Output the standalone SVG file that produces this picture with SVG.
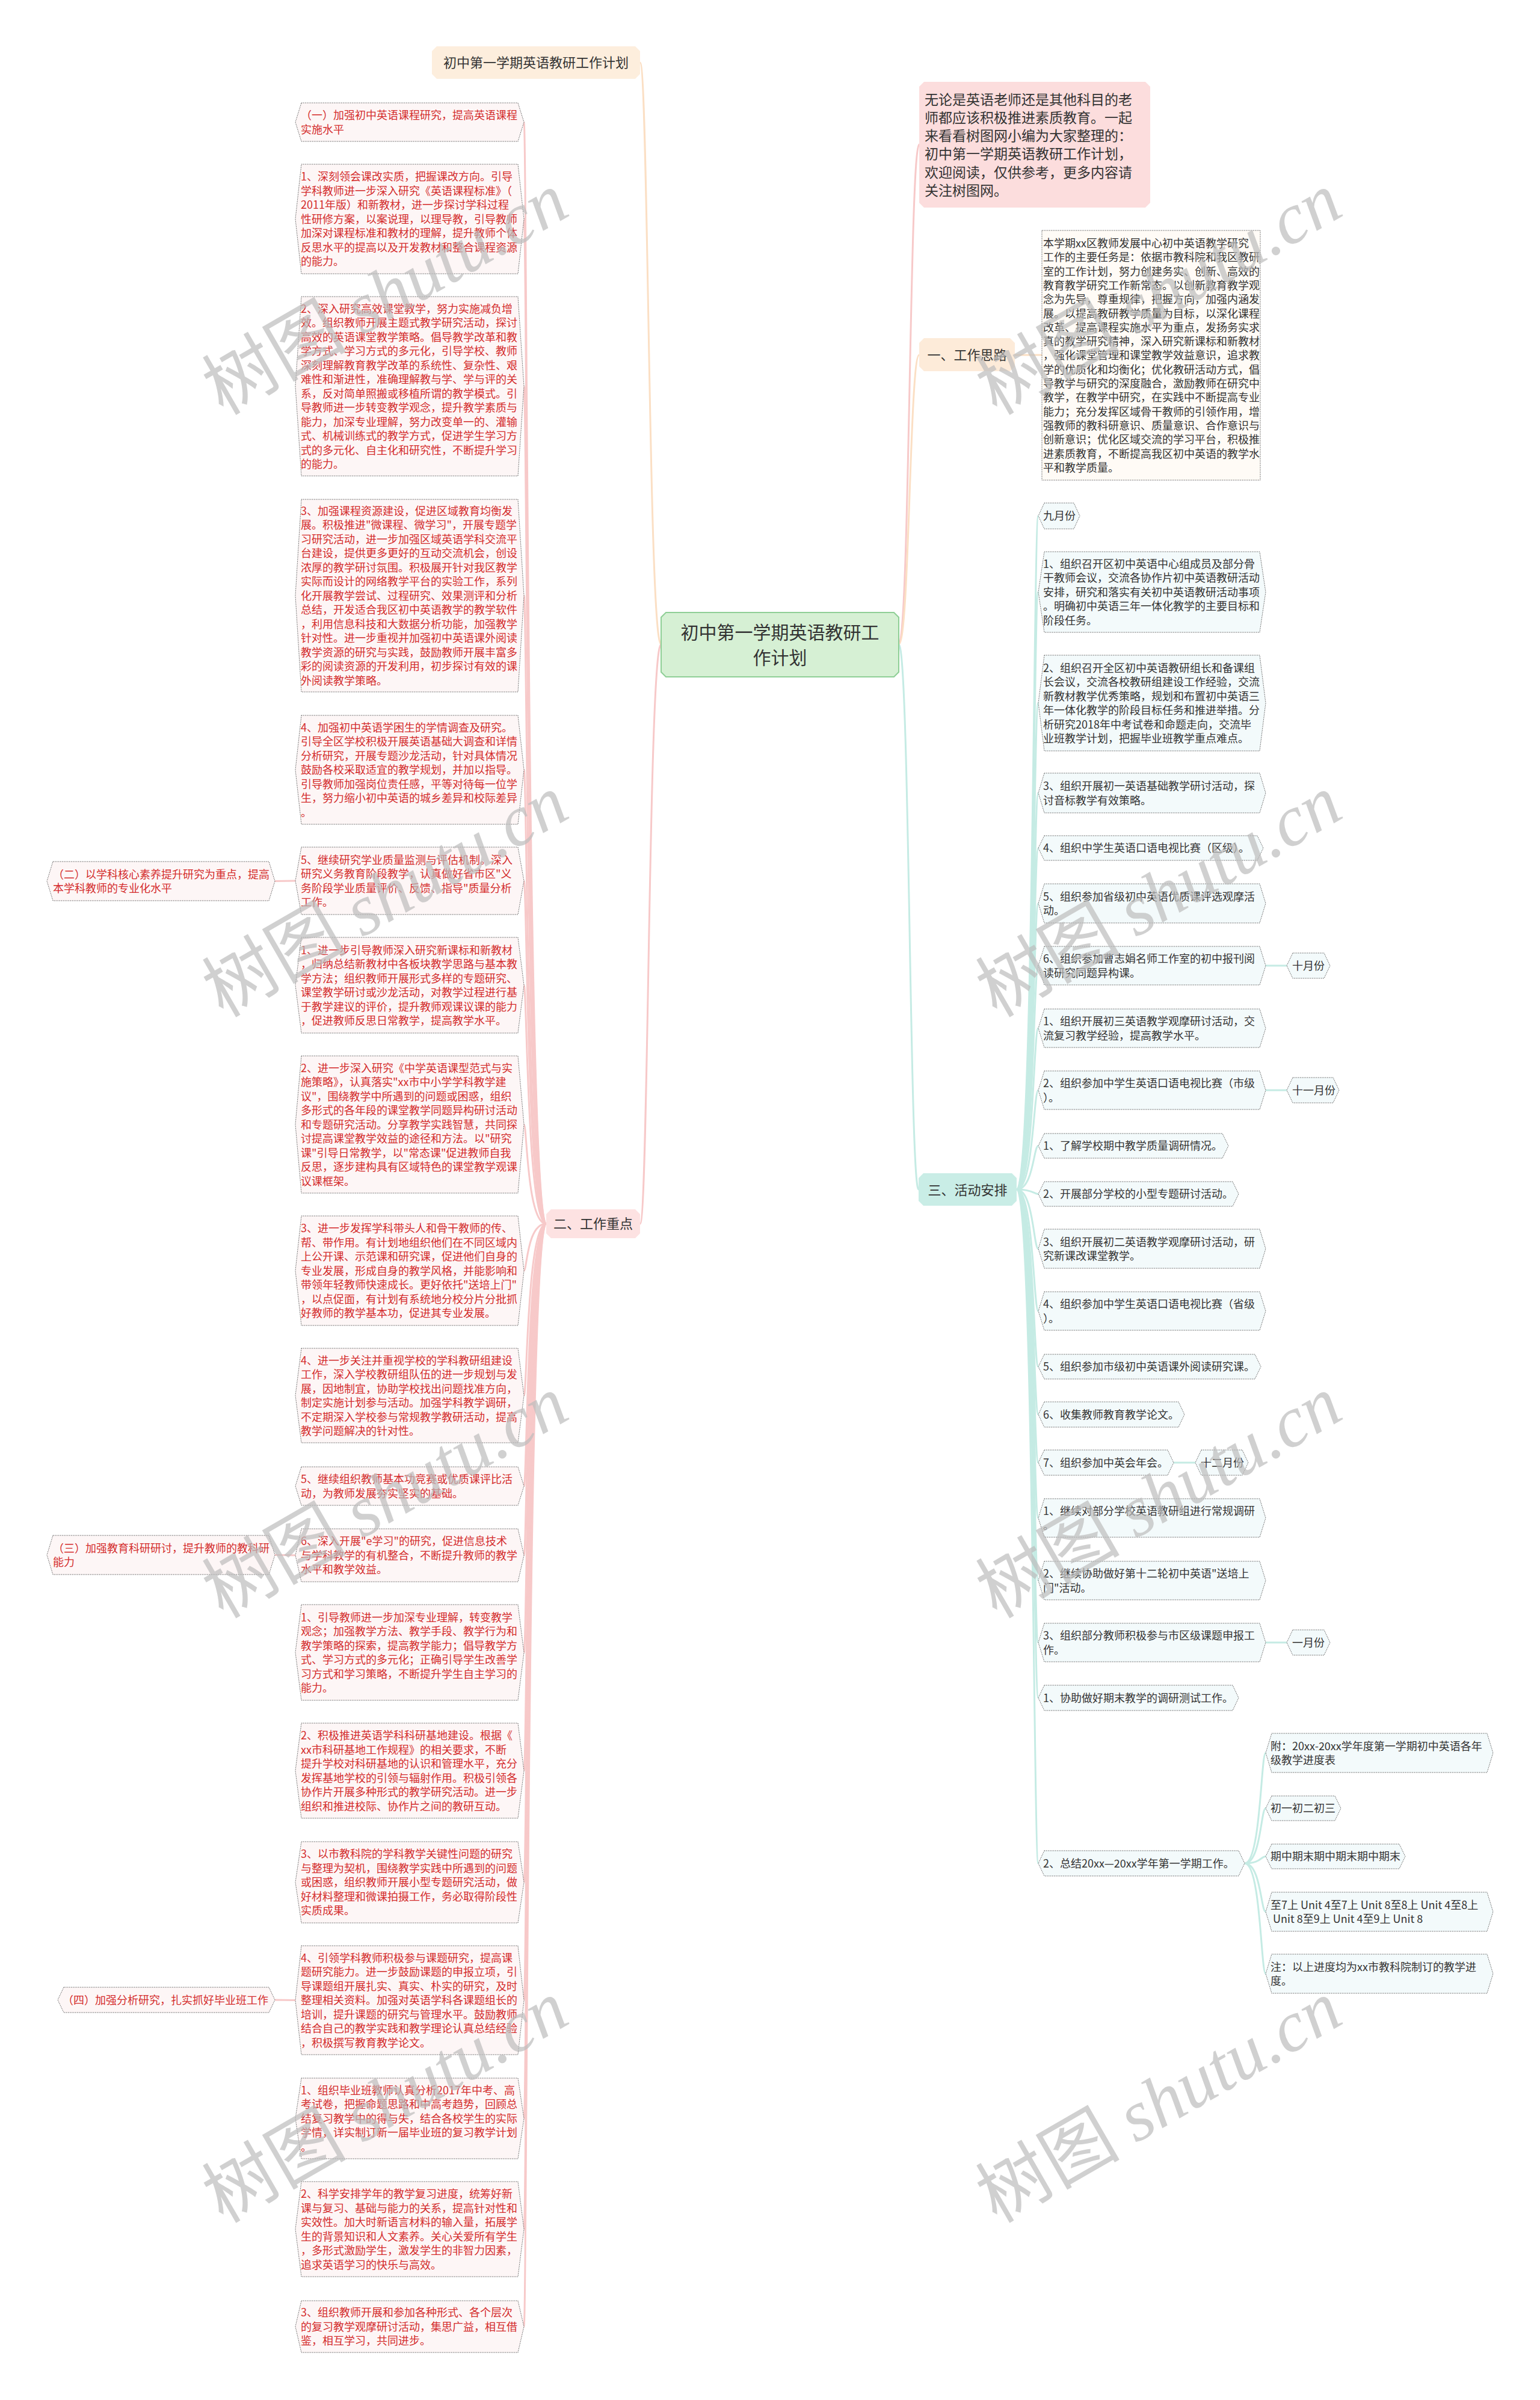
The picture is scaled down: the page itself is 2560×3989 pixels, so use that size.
<svg xmlns="http://www.w3.org/2000/svg" width="2560" height="3989" viewBox="0 0 2560 3989">
<style>
.lt{font-family:"Noto Sans CJK SC","Liberation Sans",sans-serif;font-size:18px;fill:#d42c2c}
.rt{font-family:"Noto Sans CJK SC","Liberation Sans",sans-serif;font-size:18px;fill:#333}
.ht{font-family:"Noto Sans CJK SC","Liberation Sans",sans-serif;font-size:22px;fill:#333;text-anchor:middle}
.ln{fill:#fdf6f6;stroke:#555;stroke-width:1;stroke-dasharray:1.5 1.5}
.rn{fill:#f3fafb;stroke:#555;stroke-width:1;stroke-dasharray:1.5 1.5}
.cl{fill:none;stroke:#f7c9c9;stroke-width:3}
.co{fill:none;stroke:#fbdfc4;stroke-width:3}
.ct{fill:none;stroke:#c5ebe4;stroke-width:3}
.wm{font-size:120px;fill:#bcbcbc;fill-opacity:0.7;text-anchor:middle}
</style>
<rect width="2560" height="3989" fill="#fff"/>

<g id="connectors">
  <path class="co" d="M1099,1071 C1078,1071 1078,104 1064,104"/>
  <path class="cl" d="M1099,1071 C1078,1071 1078,2034 1064,2034"/>
  <path class="cl" d="M1494,1071 C1512,1071 1512,240 1528,240"/>
  <path class="co" d="M1494,1071 C1512,1071 1512,590 1528,590"/>
  <path class="ct" d="M1494,1071 C1512,1071 1512,1977 1527,1977"/>
  <path class="co" d="M1687,590 L1732,590"/>
  <g class="cl">
    <path d="M908,2034 C876,2034 876,203 871,203"/>
    <path d="M908,2034 C876,2034 876,364 871,364"/>
    <path d="M908,2034 C876,2034 876,642 871,642"/>
    <path d="M908,2034 C876,2034 876,990 871,990"/>
    <path d="M908,2034 C876,2034 876,1279.5 871,1279.5"/>
    <path d="M908,2034 C876,2034 876,1464 871,1464"/>
    <path d="M908,2034 C876,2034 876,1637.5 871,1637.5"/>
    <path d="M908,2034 C876,2034 876,1869 871,1869"/>
    <path d="M908,2034 C876,2034 876,2112 871,2112"/>
    <path d="M908,2034 C876,2034 876,2319.5 871,2319.5"/>
    <path d="M908,2034 C876,2034 876,2470 871,2470"/>
    <path d="M908,2034 C876,2034 876,2585 871,2585"/>
    <path d="M908,2034 C876,2034 876,2746.5 871,2746.5"/>
    <path d="M908,2034 C876,2034 876,2943 871,2943"/>
    <path d="M908,2034 C876,2034 876,3128.5 871,3128.5"/>
    <path d="M908,2034 C876,2034 876,3324.5 871,3324.5"/>
    <path d="M908,2034 C876,2034 876,3521 871,3521"/>
    <path d="M908,2034 C876,2034 876,3705 871,3705"/>
    <path d="M908,2034 C876,2034 876,3867 871,3867"/>
    <path d="M491,1464 L457,1464.5"/>
    <path d="M491,2585 L457,2584.5"/>
    <path d="M491,3324.5 L457,3324"/>
  </g>
  <g class="ct">
    <path d="M1690,1977 C1718,1977 1718,857.5 1726,857.5"/>
    <path d="M1690,1977 C1718,1977 1718,984 1726,984"/>
    <path d="M1690,1977 C1718,1977 1718,1168.5 1726,1168.5"/>
    <path d="M1690,1977 C1718,1977 1718,1318 1726,1318"/>
    <path d="M1690,1977 C1718,1977 1718,1409.5 1726,1409.5"/>
    <path d="M1690,1977 C1718,1977 1718,1501.5 1726,1501.5"/>
    <path d="M1690,1977 C1718,1977 1718,1605 1726,1605"/>
    <path d="M1690,1977 C1718,1977 1718,1709 1726,1709"/>
    <path d="M1690,1977 C1718,1977 1718,1812 1726,1812"/>
    <path d="M1690,1977 C1718,1977 1718,1904.5 1726,1904.5"/>
    <path d="M1690,1977 C1718,1977 1718,1984.5 1726,1984.5"/>
    <path d="M1690,1977 C1718,1977 1718,2075.5 1726,2075.5"/>
    <path d="M1690,1977 C1718,1977 1718,2179 1726,2179"/>
    <path d="M1690,1977 C1718,1977 1718,2271.5 1726,2271.5"/>
    <path d="M1690,1977 C1718,1977 1718,2351 1726,2351"/>
    <path d="M1690,1977 C1718,1977 1718,2431 1726,2431"/>
    <path d="M1690,1977 C1718,1977 1718,2523 1726,2523"/>
    <path d="M1690,1977 C1718,1977 1718,2627 1726,2627"/>
    <path d="M1690,1977 C1718,1977 1718,2730 1726,2730"/>
    <path d="M1690,1977 C1718,1977 1718,2822 1726,2822"/>
    <path d="M1690,1977 C1718,1977 1718,3097 1726,3097"/>
    <path d="M2104,1605 L2139,1605"/>
    <path d="M2104,1812 L2139,1812"/>
    <path d="M1951,2431 L1987,2431"/>
    <path d="M2104,2730 L2139,2730"/>
    <path d="M2069,3097 C2096,3097 2096,2913.5 2104,2913.5"/>
    <path d="M2069,3097 C2096,3097 2096,3005.5 2104,3005.5"/>
    <path d="M2069,3097 C2096,3097 2096,3085.5 2104,3085.5"/>
    <path d="M2069,3097 C2096,3097 2096,3177.5 2104,3177.5"/>
    <path d="M2069,3097 C2096,3097 2096,3280.5 2104,3280.5"/>
  </g>
</g>

<g id="center">
  <path d="M1107,1018H1486L1494,1026V1117L1486,1125H1107L1099,1117V1026Z" fill="#d6f0d4" stroke="#8fcf96" stroke-width="2"/>
  <text x="1296.5" y="1062" font-family="Noto Sans CJK SC, sans-serif" font-size="30" fill="#333" text-anchor="middle"><tspan x="1296.5">初中第一学期英语教研工</tspan><tspan x="1296.5" dy="42">作计划</tspan></text>
</g>

<g id="title-node">
  <path d="M726,77H1056L1064,85V123L1056,131H726L718,123V85Z" fill="#fdeedd"/>
  <text class="ht" x="891" y="112">初中第一学期英语教研工作计划</text>
</g>
<g id="n-er">
  <path d="M916,2010H1056L1064,2018V2050L1056,2058H916L908,2050V2018Z" fill="#fde2e2"/>
  <text class="ht" x="986" y="2042">二、工作重点</text>
</g>
<g id="n-intro">
  <path d="M1536,136H1904L1912,144V337L1904,345H1536L1528,337V144Z" fill="#fcdddd"/>
  <text x="1537" y="173.5" font-family="Noto Sans CJK SC, sans-serif" font-size="23" fill="#333"><tspan x="1537">无论是英语老师还是其他科目的老</tspan><tspan x="1537" dy="30.3">师都应该积极推进素质教育。一起</tspan><tspan x="1537" dy="30.3">来看看树图网小编为大家整理的：</tspan><tspan x="1537" dy="30.3">初中第一学期英语教研工作计划，</tspan><tspan x="1537" dy="30.3">欢迎阅读，仅供参考，更多内容请</tspan><tspan x="1537" dy="30.3">关注树图网。</tspan></text>
</g>
<g id="n-yi">
  <path d="M1536,562H1679L1687,570V609L1679,617H1536L1528,609V570Z" fill="#fdebd9"/>
  <text class="ht" x="1607.5" y="598">一、工作思路</text>
</g>
<g id="n-yi-1">
  <rect x="1732" y="383" width="363" height="415" fill="#fffbf6" stroke="#555" stroke-width="1" stroke-dasharray="1.5 1.5"/>
  <text class="rt" x="1734" y="411"><tspan x="1734">本学期xx区教师发展中心初中英语教学研究</tspan><tspan x="1734" dy="23.3">工作的主要任务是：依据市教科院和我区教研</tspan><tspan x="1734" dy="23.3">室的工作计划，努力创建务实、创新、高效的</tspan><tspan x="1734" dy="23.3">教育教学研究工作新常态。以创新教育教学观</tspan><tspan x="1734" dy="23.3">念为先导，尊重规律，把握方向，加强内涵发</tspan><tspan x="1734" dy="23.3">展。以提高教研教学质量为目标，以深化课程</tspan><tspan x="1734" dy="23.3">改革、提高课程实施水平为重点，发扬务实求</tspan><tspan x="1734" dy="23.3">真的教学研究精神，深入研究新课标和新教材</tspan><tspan x="1734" dy="23.3">，强化课堂管理和课堂教学效益意识，追求教</tspan><tspan x="1734" dy="23.3">学的优质化和均衡化；优化教研活动方式，倡</tspan><tspan x="1734" dy="23.3">导教学与研究的深度融合，激励教师在研究中</tspan><tspan x="1734" dy="23.3">教学，在教学中研究，在实践中不断提高专业</tspan><tspan x="1734" dy="23.3">能力；充分发挥区域骨干教师的引领作用，增</tspan><tspan x="1734" dy="23.3">强教师的教科研意识、质量意识、合作意识与</tspan><tspan x="1734" dy="23.3">创新意识；优化区域交流的学习平台，积极推</tspan><tspan x="1734" dy="23.3">进素质教育，不断提高我区初中英语的教学水</tspan><tspan x="1734" dy="23.3">平和教学质量。</tspan></text>
</g>
<g id="n-san">
  <path d="M1535,1950H1682L1690,1958V1996L1682,2004H1535L1527,1996V1958Z" fill="#c9ede6"/>
  <text class="ht" x="1608.5" y="1985.5">三、活动安排</text>
</g>

<g id="left-nodes">
<g id="a0"><path class="ln" d="M501,171H861L871,203L861,235H501L491,203Z"/>
<text class="lt" x="500" y="198"><tspan x="500">（一）加强初中英语课程研究，提高英语课程</tspan><tspan x="500" dy="23.5">实施水平</tspan></text></g>
<g id="a1"><path class="ln" d="M501,273H861L871,364L861,455H501L491,364Z"/>
<text class="lt" x="500" y="300.3"><tspan x="500">1、深刻领会课改实质，把握课改方向。引导</tspan><tspan x="500" dy="23.5">学科教师进一步深入研究《英语课程标准》（</tspan><tspan x="500" dy="23.5">2011年版）和新教材，进一步探讨学科过程</tspan><tspan x="500" dy="23.5">性研修方案，以案说理，以理导教，引导教师</tspan><tspan x="500" dy="23.5">加深对课程标准和教材的理解，提升教师个体</tspan><tspan x="500" dy="23.5">反思水平的提高以及开发教材和整合课程资源</tspan><tspan x="500" dy="23.5">的能力。</tspan></text></g>
<g id="a2"><path class="ln" d="M501,493H861L871,642L861,791H501L491,642Z"/>
<text class="lt" x="500" y="519.5"><tspan x="500">2、深入研究高效课堂教学，努力实施减负增</tspan><tspan x="500" dy="23.5">效。组织教师开展主题式教学研究活动，探讨</tspan><tspan x="500" dy="23.5">高效的英语课堂教学策略。倡导教学改革和教</tspan><tspan x="500" dy="23.5">学方式、学习方式的多元化，引导学校、教师</tspan><tspan x="500" dy="23.5">深刻理解教育教学改革的系统性、复杂性、艰</tspan><tspan x="500" dy="23.5">难性和渐进性，准确理解教与学、学与评的关</tspan><tspan x="500" dy="23.5">系，反对简单照搬或移植所谓的教学模式。引</tspan><tspan x="500" dy="23.5">导教师进一步转变教学观念，提升教学素质与</tspan><tspan x="500" dy="23.5">能力，加深专业理解，努力改变单一的、灌输</tspan><tspan x="500" dy="23.5">式、机械训练式的教学方式，促进学生学习方</tspan><tspan x="500" dy="23.5">式的多元化、自主化和研究性，不断提升学习</tspan><tspan x="500" dy="23.5">的能力。</tspan></text></g>
<g id="a3"><path class="ln" d="M501,830H861L871,990L861,1150H501L491,990Z"/>
<text class="lt" x="500" y="855.8"><tspan x="500">3、加强课程资源建设，促进区域教育均衡发</tspan><tspan x="500" dy="23.5">展。积极推进"微课程、微学习"，开展专题学</tspan><tspan x="500" dy="23.5">习研究活动，进一步加强区域英语学科交流平</tspan><tspan x="500" dy="23.5">台建设，提供更多更好的互动交流机会，创设</tspan><tspan x="500" dy="23.5">浓厚的教学研讨氛围。积极展开针对我区教学</tspan><tspan x="500" dy="23.5">实际而设计的网络教学平台的实验工作，系列</tspan><tspan x="500" dy="23.5">化开展教学尝试、过程研究、效果测评和分析</tspan><tspan x="500" dy="23.5">总结，开发适合我区初中英语教学的教学软件</tspan><tspan x="500" dy="23.5">，利用信息科技和大数据分析功能，加强教学</tspan><tspan x="500" dy="23.5">针对性。进一步重视并加强初中英语课外阅读</tspan><tspan x="500" dy="23.5">教学资源的研究与实践，鼓励教师开展丰富多</tspan><tspan x="500" dy="23.5">彩的阅读资源的开发利用，初步探讨有效的课</tspan><tspan x="500" dy="23.5">外阅读教学策略。</tspan></text></g>
<g id="a4"><path class="ln" d="M501,1189H861L871,1279.5L861,1370H501L491,1279.5Z"/>
<text class="lt" x="500" y="1215.8"><tspan x="500">4、加强初中英语学困生的学情调查及研究。</tspan><tspan x="500" dy="23.5">引导全区学校积极开展英语基础大调查和详情</tspan><tspan x="500" dy="23.5">分析研究，开展专题沙龙活动，针对具体情况</tspan><tspan x="500" dy="23.5">鼓励各校采取适宜的教学规划，并加以指导。</tspan><tspan x="500" dy="23.5">引导教师加强岗位责任感，平等对待每一位学</tspan><tspan x="500" dy="23.5">生，努力缩小初中英语的城乡差异和校际差异</tspan><tspan x="500" dy="23.5">。</tspan></text></g>
<g id="a5"><path class="ln" d="M501,1408H861L871,1464L861,1520H501L491,1464Z"/>
<text class="lt" x="500" y="1435.5"><tspan x="500">5、继续研究学业质量监测与评估机制。深入</tspan><tspan x="500" dy="23.5">研究义务教育阶段教学，认真做好省市区"义</tspan><tspan x="500" dy="23.5">务阶段学业质量评价、反馈、指导"质量分析</tspan><tspan x="500" dy="23.5">工作。</tspan></text></g>
<g id="n-er-2"><path class="ln" d="M88,1432H447L457,1464.5L447,1497H88L78,1464.5Z"/>
<text class="lt" x="88" y="1459.5"><tspan x="88">（二）以学科核心素养提升研究为重点，提高</tspan><tspan x="88" dy="23.5">本学科教师的专业化水平</tspan></text></g>
<g id="b1"><path class="ln" d="M501,1558H861L871,1637.5L861,1717H501L491,1637.5Z"/>
<text class="lt" x="500" y="1585.5"><tspan x="500">1、进一步引导教师深入研究新课标和新教材</tspan><tspan x="500" dy="23.5">，归纳总结新教材中各板块教学思路与基本教</tspan><tspan x="500" dy="23.5">学方法；组织教师开展形式多样的专题研究、</tspan><tspan x="500" dy="23.5">课堂教学研讨或沙龙活动，对教学过程进行基</tspan><tspan x="500" dy="23.5">于教学建议的评价，提升教师观课议课的能力</tspan><tspan x="500" dy="23.5">，促进教师反思日常教学，提高教学水平。</tspan></text></g>
<g id="b2"><path class="ln" d="M501,1755H861L871,1869L861,1983H501L491,1869Z"/>
<text class="lt" x="500" y="1781.8"><tspan x="500">2、进一步深入研究《中学英语课型范式与实</tspan><tspan x="500" dy="23.5">施策略》，认真落实"xx市中小学学科教学建</tspan><tspan x="500" dy="23.5">议"，围绕教学中所遇到的问题或困惑，组织</tspan><tspan x="500" dy="23.5">多形式的各年段的课堂教学同题异构研讨活动</tspan><tspan x="500" dy="23.5">和专题研究活动。分享教学实践智慧，共同探</tspan><tspan x="500" dy="23.5">讨提高课堂教学效益的途径和方法。以"研究</tspan><tspan x="500" dy="23.5">课"引导日常教学，以"常态课"促进教师自我</tspan><tspan x="500" dy="23.5">反思，逐步建构具有区域特色的课堂教学观课</tspan><tspan x="500" dy="23.5">议课框架。</tspan></text></g>
<g id="b3"><path class="ln" d="M501,2021H861L871,2112L861,2203H501L491,2112Z"/>
<text class="lt" x="500" y="2048.3"><tspan x="500">3、进一步发挥学科带头人和骨干教师的传、</tspan><tspan x="500" dy="23.5">帮、带作用。有计划地组织他们在不同区域内</tspan><tspan x="500" dy="23.5">上公开课、示范课和研究课，促进他们自身的</tspan><tspan x="500" dy="23.5">专业发展，形成自身的教学风格，并能影响和</tspan><tspan x="500" dy="23.5">带领年轻教师快速成长。更好依托"送培上门"</tspan><tspan x="500" dy="23.5">，以点促面，有计划有系统地分校分片分批抓</tspan><tspan x="500" dy="23.5">好教师的教学基本功，促进其专业发展。</tspan></text></g>
<g id="b4"><path class="ln" d="M501,2241H861L871,2319.5L861,2398H501L491,2319.5Z"/>
<text class="lt" x="500" y="2267.5"><tspan x="500">4、进一步关注并重视学校的学科教研组建设</tspan><tspan x="500" dy="23.5">工作，深入学校教研组队伍的进一步规划与发</tspan><tspan x="500" dy="23.5">展，因地制宜，协助学校找出问题找准方向，</tspan><tspan x="500" dy="23.5">制定实施计划参与活动。加强学科教学调研，</tspan><tspan x="500" dy="23.5">不定期深入学校参与常规教学教研活动，提高</tspan><tspan x="500" dy="23.5">教学问题解决的针对性。</tspan></text></g>
<g id="b5"><path class="ln" d="M501,2438H861L871,2470L861,2502H501L491,2470Z"/>
<text class="lt" x="500" y="2465"><tspan x="500">5、继续组织教师基本功竞赛或优质课评比活</tspan><tspan x="500" dy="23.5">动，为教师发展夯实坚实的基础。</tspan></text></g>
<g id="b6"><path class="ln" d="M501,2541H861L871,2585L861,2629H501L491,2585Z"/>
<text class="lt" x="500" y="2568.3"><tspan x="500">6、深入开展"e学习"的研究，促进信息技术</tspan><tspan x="500" dy="23.5">与学科教学的有机整合，不断提升教师的教学</tspan><tspan x="500" dy="23.5">水平和教学效益。</tspan></text></g>
<g id="n-san-2"><path class="ln" d="M88,2552H447L457,2584.5L447,2617H88L78,2584.5Z"/>
<text class="lt" x="88" y="2579.5"><tspan x="88">（三）加强教育科研研讨，提升教师的教科研</tspan><tspan x="88" dy="23.5">能力</tspan></text></g>
<g id="c1"><path class="ln" d="M501,2667H861L871,2746.5L861,2826H501L491,2746.5Z"/>
<text class="lt" x="500" y="2694.5"><tspan x="500">1、引导教师进一步加深专业理解，转变教学</tspan><tspan x="500" dy="23.5">观念；加强教学方法、教学手段、教学行为和</tspan><tspan x="500" dy="23.5">教学策略的探索，提高教学能力；倡导教学方</tspan><tspan x="500" dy="23.5">式、学习方式的多元化；正确引导学生改善学</tspan><tspan x="500" dy="23.5">习方式和学习策略，不断提升学生自主学习的</tspan><tspan x="500" dy="23.5">能力。</tspan></text></g>
<g id="c2"><path class="ln" d="M501,2864H861L871,2943L861,3022H501L491,2943Z"/>
<text class="lt" x="500" y="2891"><tspan x="500">2、积极推进英语学科科研基地建设。根据《</tspan><tspan x="500" dy="23.5">xx市科研基地工作规程》的相关要求，不断</tspan><tspan x="500" dy="23.5">提升学校对科研基地的认识和管理水平，充分</tspan><tspan x="500" dy="23.5">发挥基地学校的引领与辐射作用。积极引领各</tspan><tspan x="500" dy="23.5">协作片开展多种形式的教学研究活动。进一步</tspan><tspan x="500" dy="23.5">组织和推进校际、协作片之间的教研互动。</tspan></text></g>
<g id="c3"><path class="ln" d="M501,3061H861L871,3128.5L861,3196H501L491,3128.5Z"/>
<text class="lt" x="500" y="3088.3"><tspan x="500">3、以市教科院的学科教学关键性问题的研究</tspan><tspan x="500" dy="23.5">与整理为契机，围绕教学实践中所遇到的问题</tspan><tspan x="500" dy="23.5">或困惑，组织教师开展小型专题研究活动，做</tspan><tspan x="500" dy="23.5">好材料整理和微课拍摄工作，务必取得阶段性</tspan><tspan x="500" dy="23.5">实质成果。</tspan></text></g>
<g id="c4"><path class="ln" d="M501,3234H861L871,3324.5L861,3415H501L491,3324.5Z"/>
<text class="lt" x="500" y="3260.8"><tspan x="500">4、引领学科教师积极参与课题研究，提高课</tspan><tspan x="500" dy="23.5">题研究能力。进一步鼓励课题的申报立项，引</tspan><tspan x="500" dy="23.5">导课题组开展扎实、真实、朴实的研究，及时</tspan><tspan x="500" dy="23.5">整理相关资料。加强对英语学科各课题组长的</tspan><tspan x="500" dy="23.5">培训，提升课题的研究与管理水平。鼓励教师</tspan><tspan x="500" dy="23.5">结合自己的教学实践和教学理论认真总结经验</tspan><tspan x="500" dy="23.5">，积极撰写教育教学论文。</tspan></text></g>
<g id="n-si-2"><path class="ln" d="M106,3303H447L457,3324L447,3345H106L96,3324Z"/>
<text class="lt" x="104" y="3330.8">（四）加强分析研究，扎实抓好毕业班工作</text></g>
<g id="d1"><path class="ln" d="M501,3454H861L871,3521L861,3588H501L491,3521Z"/>
<text class="lt" x="500" y="3480.8"><tspan x="500">1、组织毕业班教师认真分析2017年中考、高</tspan><tspan x="500" dy="23.5">考试卷，把握命题思路和中高考趋势，回顾总</tspan><tspan x="500" dy="23.5">结复习教学中的得与失，结合各校学生的实际</tspan><tspan x="500" dy="23.5">学情，详实制订新一届毕业班的复习教学计划</tspan><tspan x="500" dy="23.5">。</tspan></text></g>
<g id="d2"><path class="ln" d="M501,3626H861L871,3705L861,3784H501L491,3705Z"/>
<text class="lt" x="500" y="3653"><tspan x="500">2、科学安排学年的教学复习进度，统筹好新</tspan><tspan x="500" dy="23.5">课与复习、基础与能力的关系，提高针对性和</tspan><tspan x="500" dy="23.5">实效性。加大时新语言材料的输入量，拓展学</tspan><tspan x="500" dy="23.5">生的背景知识和人文素养。关心关爱所有学生</tspan><tspan x="500" dy="23.5">，多形式激励学生，激发学生的非智力因素，</tspan><tspan x="500" dy="23.5">追求英语学习的快乐与高效。</tspan></text></g>
<g id="d3"><path class="ln" d="M501,3824H861L871,3867L861,3910H501L491,3867Z"/>
<text class="lt" x="500" y="3850.3"><tspan x="500">3、组织教师开展和参加各种形式、各个层次</tspan><tspan x="500" dy="23.5">的复习教学观摩研讨活动，集思广益，相互借</tspan><tspan x="500" dy="23.5">鉴，相互学习，共同进步。</tspan></text></g>
</g>

<g id="right-nodes">
<g id="r0"><path class="rn" d="M1736,836H1785L1795,857.5L1785,879H1736L1726,857.5Z"/><text class="rt" x="1734" y="864.3">九月份</text></g>
<g id="r1"><path class="rn" d="M1736,917H2094L2104,984L2094,1051H1736L1726,984Z"/>
<text class="rt" x="1734" y="943.8"><tspan x="1734">1、组织召开区初中英语中心组成员及部分骨</tspan><tspan x="1734" dy="23.5">干教师会议，交流各协作片初中英语教研活动</tspan><tspan x="1734" dy="23.5">安排，研究和落实有关初中英语教研活动事项</tspan><tspan x="1734" dy="23.5">。明确初中英语三年一体化教学的主要目标和</tspan><tspan x="1734" dy="23.5">阶段任务。</tspan></text></g>
<g id="r2"><path class="rn" d="M1736,1089H2094L2104,1168.5L2094,1248H1736L1726,1168.5Z"/>
<text class="rt" x="1734" y="1116.5"><tspan x="1734">2、组织召开全区初中英语教研组长和备课组</tspan><tspan x="1734" dy="23.5">长会议，交流各校教研组建设工作经验，交流</tspan><tspan x="1734" dy="23.5">新教材教学优秀策略，规划和布置初中英语三</tspan><tspan x="1734" dy="23.5">年一体化教学的阶段目标任务和推进举措。分</tspan><tspan x="1734" dy="23.5">析研究2018年中考试卷和命题走向，交流毕</tspan><tspan x="1734" dy="23.5">业班教学计划，把握毕业班教学重点难点。</tspan></text></g>
<g id="r3"><path class="rn" d="M1736,1285H2094L2104,1318L2094,1351H1736L1726,1318Z"/>
<text class="rt" x="1734" y="1313"><tspan x="1734">3、组织开展初一英语基础教学研讨活动，探</tspan><tspan x="1734" dy="23.5">讨音标教学有效策略。</tspan></text></g>
<g id="r4"><path class="rn" d="M1736,1389H2090L2100,1409.5L2090,1430H1736L1726,1409.5Z"/>
<text class="rt" x="1734" y="1416.3">4、组织中学生英语口语电视比赛（区级）。</text></g>
<g id="r5"><path class="rn" d="M1736,1469H2094L2104,1501.5L2094,1534H1736L1726,1501.5Z"/>
<text class="rt" x="1734" y="1496.5"><tspan x="1734">5、组织参加省级初中英语优质课评选观摩活</tspan><tspan x="1734" dy="23.5">动。</tspan></text></g>
<g id="r6"><path class="rn" d="M1736,1573H2094L2104,1605L2094,1637H1736L1726,1605Z"/>
<text class="rt" x="1734" y="1600"><tspan x="1734">6、组织参加曹志娟名师工作室的初中报刊阅</tspan><tspan x="1734" dy="23.5">读研究同题异构课。</tspan></text></g>
<g id="m10"><path class="rn" d="M2149,1584H2201L2211,1605L2201,1626H2149L2139,1605Z"/><text class="rt" x="2148" y="1611.8">十月份</text></g>
<g id="r7"><path class="rn" d="M1736,1677H2094L2104,1709L2094,1741H1736L1726,1709Z"/>
<text class="rt" x="1734" y="1704"><tspan x="1734">1、组织开展初三英语教学观摩研讨活动，交</tspan><tspan x="1734" dy="23.5">流复习教学经验，提高教学水平。</tspan></text></g>
<g id="r8"><path class="rn" d="M1736,1780H2094L2104,1812L2094,1844H1736L1726,1812Z"/>
<text class="rt" x="1734" y="1807"><tspan x="1734">2、组织参加中学生英语口语电视比赛（市级</tspan><tspan x="1734" dy="23.5">）。</tspan></text></g>
<g id="m11"><path class="rn" d="M2149,1791H2216L2226,1812L2216,1833H2149L2139,1812Z"/><text class="rt" x="2148" y="1818.8">十一月份</text></g>
<g id="r9"><path class="rn" d="M1736,1884H2032L2042,1904.5L2032,1925H1736L1726,1904.5Z"/>
<text class="rt" x="1734" y="1911.3">1、了解学校期中教学质量调研情况。</text></g>
<g id="r10"><path class="rn" d="M1736,1964H2049L2059,1984.5L2049,2005H1736L1726,1984.5Z"/>
<text class="rt" x="1734" y="1991.3">2、开展部分学校的小型专题研讨活动。</text></g>
<g id="r11"><path class="rn" d="M1736,2043H2094L2104,2075.5L2094,2108H1736L1726,2075.5Z"/>
<text class="rt" x="1734" y="2070.5"><tspan x="1734">3、组织开展初二英语教学观摩研讨活动，研</tspan><tspan x="1734" dy="23.5">究新课改课堂教学。</tspan></text></g>
<g id="r12"><path class="rn" d="M1736,2147H2094L2104,2179L2094,2211H1736L1726,2179Z"/>
<text class="rt" x="1734" y="2174"><tspan x="1734">4、组织参加中学生英语口语电视比赛（省级</tspan><tspan x="1734" dy="23.5">）。</tspan></text></g>
<g id="r13"><path class="rn" d="M1736,2251H2086L2096,2271.5L2086,2292H1736L1726,2271.5Z"/>
<text class="rt" x="1734" y="2278.3">5、组织参加市级初中英语课外阅读研究课。</text></g>
<g id="r14"><path class="rn" d="M1736,2330H1959L1969,2351L1959,2372H1736L1726,2351Z"/>
<text class="rt" x="1734" y="2357.8">6、收集教师教育教学论文。</text></g>
<g id="r15"><path class="rn" d="M1736,2410H1941L1951,2431L1941,2452H1736L1726,2431Z"/>
<text class="rt" x="1734" y="2437.8">7、组织参加中英会年会。</text></g>
<g id="m12"><path class="rn" d="M1997,2410H2065L2075,2431L2065,2452H1997L1987,2431Z"/><text class="rt" x="1996" y="2437.8">十二月份</text></g>
<g id="r16"><path class="rn" d="M1736,2491H2094L2104,2523L2094,2555H1736L1726,2523Z"/>
<text class="rt" x="1734" y="2518"><tspan x="1734">1、继续对部分学校英语教研组进行常规调研</tspan><tspan x="1734" dy="23.5">。</tspan></text></g>
<g id="r17"><path class="rn" d="M1736,2595H2094L2104,2627L2094,2659H1736L1726,2627Z"/>
<text class="rt" x="1734" y="2622"><tspan x="1734">2、继续协助做好第十二轮初中英语"送培上</tspan><tspan x="1734" dy="23.5">门"活动。</tspan></text></g>
<g id="r18"><path class="rn" d="M1736,2698H2094L2104,2730L2094,2762H1736L1726,2730Z"/>
<text class="rt" x="1734" y="2725"><tspan x="1734">3、组织部分教师积极参与市区级课题申报工</tspan><tspan x="1734" dy="23.5">作。</tspan></text></g>
<g id="m1"><path class="rn" d="M2149,2709H2201L2211,2730L2201,2751H2149L2139,2730Z"/><text class="rt" x="2148" y="2736.8">一月份</text></g>
<g id="r19"><path class="rn" d="M1736,2801H2049L2059,2822L2049,2843H1736L1726,2822Z"/>
<text class="rt" x="1734" y="2828.8">1、协助做好期末教学的调研测试工作。</text></g>
<g id="r20"><path class="rn" d="M1736,3076H2059L2069,3097L2059,3118H1736L1726,3097Z"/>
<text class="rt" x="1734" y="3103.8">2、总结20xx—20xx学年第一学期工作。</text></g>
<g id="s1"><path class="rn" d="M2114,2881H2472L2482,2913.5L2472,2946H2114L2104,2913.5Z"/>
<text class="rt" x="2112" y="2908.5"><tspan x="2112">附：20xx-20xx学年度第一学期初中英语各年</tspan><tspan x="2112" dy="23.5">级教学进度表</tspan></text></g>
<g id="s2"><path class="rn" d="M2114,2985H2219L2229,3005.5L2219,3026H2114L2104,3005.5Z"/>
<text class="rt" x="2112" y="3012.3">初一初二初三</text></g>
<g id="s3"><path class="rn" d="M2114,3065H2326L2336,3085.5L2326,3106H2114L2104,3085.5Z"/>
<text class="rt" x="2112" y="3092.3">期中期末期中期末期中期末</text></g>
<g id="s4"><path class="rn" d="M2114,3145H2472L2482,3177.5L2472,3210H2114L2104,3177.5Z"/>
<text class="rt" x="2112" y="3172.5"><tspan x="2112">至7上 Unit 4至7上 Unit 8至8上 Unit 4至8上</tspan><tspan x="2112" dy="23.5"> Unit 8至9上 Unit 4至9上 Unit 8</tspan></text></g>
<g id="s5"><path class="rn" d="M2114,3248H2472L2482,3280.5L2472,3313H2114L2104,3280.5Z"/>
<text class="rt" x="2112" y="3275.5"><tspan x="2112">注：以上进度均为xx市教科院制订的教学进</tspan><tspan x="2112" dy="23.5">度。</tspan></text></g>
</g>

<g id="watermarks" class="wm">
  <text transform="translate(641,489) rotate(-30)" y="40"><tspan font-family="Noto Sans CJK SC, sans-serif">树图 </tspan><tspan font-family="Liberation Serif, serif" font-style="italic">shutu.cn</tspan></text>
  <text transform="translate(1927,489) rotate(-30)" y="40"><tspan font-family="Noto Sans CJK SC, sans-serif">树图 </tspan><tspan font-family="Liberation Serif, serif" font-style="italic">shutu.cn</tspan></text>
  <text transform="translate(641,1490) rotate(-30)" y="40"><tspan font-family="Noto Sans CJK SC, sans-serif">树图 </tspan><tspan font-family="Liberation Serif, serif" font-style="italic">shutu.cn</tspan></text>
  <text transform="translate(1927,1490) rotate(-30)" y="40"><tspan font-family="Noto Sans CJK SC, sans-serif">树图 </tspan><tspan font-family="Liberation Serif, serif" font-style="italic">shutu.cn</tspan></text>
  <text transform="translate(641,2489) rotate(-30)" y="40"><tspan font-family="Noto Sans CJK SC, sans-serif">树图 </tspan><tspan font-family="Liberation Serif, serif" font-style="italic">shutu.cn</tspan></text>
  <text transform="translate(1927,2489) rotate(-30)" y="40"><tspan font-family="Noto Sans CJK SC, sans-serif">树图 </tspan><tspan font-family="Liberation Serif, serif" font-style="italic">shutu.cn</tspan></text>
  <text transform="translate(641,3494) rotate(-30)" y="40"><tspan font-family="Noto Sans CJK SC, sans-serif">树图 </tspan><tspan font-family="Liberation Serif, serif" font-style="italic">shutu.cn</tspan></text>
  <text transform="translate(1927,3494) rotate(-30)" y="40"><tspan font-family="Noto Sans CJK SC, sans-serif">树图 </tspan><tspan font-family="Liberation Serif, serif" font-style="italic">shutu.cn</tspan></text>
</g>
</svg>
